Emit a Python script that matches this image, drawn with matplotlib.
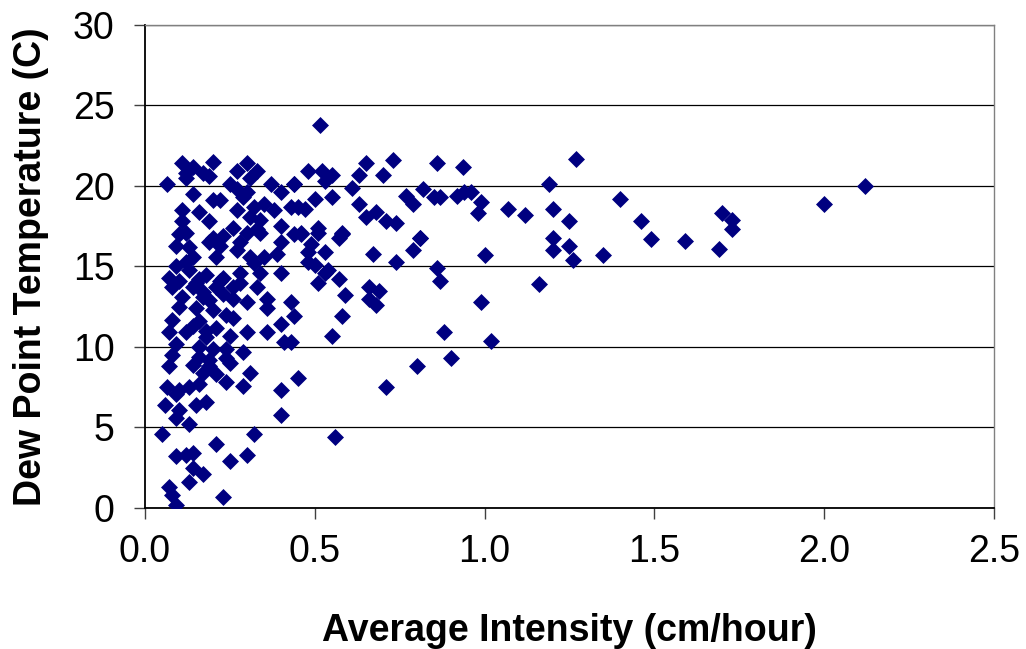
import matplotlib
matplotlib.use("Agg")
import matplotlib.pyplot as plt

plt.rcParams["font.family"] = ["Liberation Sans", "DejaVu Sans"]

# storm-average rainfall intensity (cm/hour) vs dew point (C)
intensity = [
    # sparse, higher-intensity events
    2.12, 2.00, 1.70, 1.73, 1.73, 1.69, 1.59, 1.49, 1.46, 1.40,
    1.35, 1.27, 1.25, 1.25, 1.26, 1.19, 1.20, 1.20, 1.20, 1.16,
    1.12, 1.07, 1.02, 1.00, 0.99, 0.99, 0.98, 0.94, 0.96, 0.935,
    0.90, 0.88, 0.92,
    # mid-range events
    0.46, 0.51, 0.58, 0.57, 0.81, 0.79, 0.49, 0.48, 0.53, 0.67,
    0.48, 0.50, 0.54, 0.53, 0.57, 0.51, 0.74, 0.86, 0.87, 0.66,
    0.69, 0.66, 0.68, 0.59, 0.43, 0.44, 0.58, 0.55, 0.43, 0.80,
    0.45, 0.71, 0.56, 0.515, 0.65, 0.73, 0.86, 0.48, 0.52, 0.55,
    0.53, 0.63, 0.70, 0.44, 0.61, 0.82, 0.85, 0.87, 0.77, 0.79,
    0.50, 0.55, 0.47, 0.43, 0.63, 0.65, 0.68, 0.71, 0.74, 0.51,
    0.58, 0.46, 0.81,
    # low-intensity events
    0.20, 0.11, 0.14, 0.30, 0.33, 0.27, 0.12, 0.17, 0.19, 0.12,
    0.065, 0.25, 0.31, 0.37, 0.44, 0.40, 0.14, 0.27, 0.29, 0.20,
    0.22, 0.11, 0.16, 0.27, 0.32, 0.38, 0.45, 0.19, 0.11, 0.31,
    0.34, 0.40, 0.26, 0.30, 0.33, 0.12, 0.20, 0.10, 0.19, 0.22,
    0.09, 0.13, 0.28, 0.40, 0.44, 0.34, 0.21, 0.14, 0.31, 0.39,
    0.09, 0.13, 0.07, 0.18, 0.23, 0.28, 0.32, 0.34, 0.40, 0.08,
    0.14, 0.21, 0.26, 0.33, 0.36, 0.26, 0.11, 0.17, 0.36, 0.10,
    0.15, 0.20, 0.26, 0.08, 0.16, 0.40, 0.30, 0.25, 0.36, 0.07,
    0.12, 0.18, 0.41, 0.09, 0.16, 0.20, 0.24, 0.29, 0.08, 0.16,
    0.24, 0.07, 0.14, 0.19, 0.25, 0.31, 0.17, 0.21, 0.24, 0.29,
    0.40, 0.065, 0.10, 0.13, 0.16, 0.09, 0.18, 0.15, 0.06, 0.10,
    0.09, 0.13, 0.40, 0.05, 0.32, 0.21, 0.09, 0.12, 0.14, 0.30,
    0.25, 0.14, 0.17, 0.13, 0.07, 0.23, 0.08, 0.09,
    # extra points filling the dense low-intensity cluster
    0.15, 0.17, 0.19, 0.22, 0.24, 0.18, 0.21, 0.23, 0.16, 0.19,
    0.28, 0.30, 0.35, 0.12, 0.14, 0.23, 0.27, 0.10, 0.35, 0.30,
]
dew_point = [
    20.0, 18.9, 18.3, 17.9, 17.3, 16.1, 16.6, 16.7, 17.8, 19.2,
    15.7, 21.7, 17.8, 16.3, 15.4, 20.1, 18.6, 16.8, 16.0, 13.9,
    18.2, 18.6, 10.4, 15.7, 12.8, 19.0, 18.3, 19.6, 19.6, 21.2,
    9.3, 10.9, 19.4,
    17.0, 17.1, 17.0, 16.8, 16.8, 16.0, 16.4, 15.9, 15.9, 15.8,
    15.3, 15.1, 14.8, 14.6, 14.2, 14.0, 15.3, 14.9, 14.1, 13.7,
    13.5, 13.0, 12.6, 13.2, 12.8, 11.9, 11.9, 10.7, 10.3, 8.8,
    8.1, 7.5, 4.4, 23.8, 21.4, 21.6, 21.4, 20.9, 20.9, 20.7,
    20.3, 20.7, 20.7, 20.1, 19.9, 19.8, 19.3, 19.3, 19.4, 18.9,
    19.2, 19.3, 18.6, 18.7, 18.9, 18.1, 18.4, 17.8, 17.7, 17.4,
    17.1, 17.1, 16.8,
    21.5, 21.4, 21.2, 21.4, 20.9, 20.9, 20.8, 20.8, 20.6, 20.5,
    20.1, 20.1, 20.5, 20.1, 20.1, 19.6, 19.5, 19.8, 19.3, 19.1,
    19.1, 18.5, 18.4, 18.5, 18.7, 18.5, 18.7, 17.8, 17.8, 18.1,
    17.9, 17.5, 17.4, 17.1, 17.3, 17.1, 16.8, 17.0, 16.5, 16.3,
    16.3, 16.2, 16.5, 16.5, 17.0, 17.1, 15.6, 15.6, 15.6, 15.8,
    15.0, 14.8, 14.3, 14.5, 14.3, 14.6, 15.2, 14.6, 14.6, 13.7,
    13.7, 13.7, 13.7, 13.7, 13.0, 13.0, 13.1, 13.1, 12.4, 12.5,
    12.4, 12.3, 11.8, 11.7, 11.6, 11.4, 10.9, 10.7, 10.9, 10.9,
    10.9, 10.6, 10.3, 10.2, 10.0, 9.9, 9.9, 9.7, 9.5, 9.4,
    9.3, 8.8, 8.9, 8.8, 9.0, 8.4, 8.4, 8.3, 7.8, 7.6,
    7.3, 7.5, 7.3, 7.5, 7.7, 7.1, 6.6, 6.4, 6.4, 6.1,
    5.6, 5.2, 5.8, 4.6, 4.6, 4.0, 3.2, 3.3, 3.4, 3.3,
    2.9, 2.5, 2.1, 1.6, 1.3, 0.7, 0.8, 0.2,
    14.0, 13.4, 12.9, 14.1, 12.0, 11.0, 11.2, 13.3, 14.2, 9.2,
    14.0, 19.6, 18.9, 15.3, 11.3, 16.9, 16.0, 14.1, 15.6, 12.8,
]

x_ticks = [0.0, 0.5, 1.0, 1.5, 2.0, 2.5]
y_ticks = [0, 5, 10, 15, 20, 25, 30]

fig = plt.figure(figsize=(10.26, 6.49), dpi=100)
ax = fig.add_axes([0.1413, 0.2173, 0.8275, 0.7442])

ax.scatter(intensity, dew_point, marker="D", s=75, color="#000080",
           linewidths=0, zorder=3)

ax.set_xlim(0, 2.5)
ax.set_ylim(0, 30)
ax.set_xticks(x_ticks)
ax.set_xticklabels([f"{t:.1f}" for t in x_ticks])
ax.set_yticks(y_ticks)

ax.yaxis.grid(True, color="black", linewidth=0.9)
ax.set_axisbelow(True)

for side in ("left", "bottom"):
    ax.spines[side].set_color("black")
    ax.spines[side].set_linewidth(1.3)
for side in ("top", "right"):
    ax.spines[side].set_color("#808080")
    ax.spines[side].set_linewidth(1.0)

ax.tick_params(axis="both", direction="out", length=8, width=1.0,
               color="#404040", labelsize=27)
ax.tick_params(axis="x", pad=11)
ax.tick_params(axis="y", pad=14)

ax.set_xlabel("Average Intensity (cm/hour)", fontsize=27,
              fontweight="bold", labelpad=31)
ax.set_ylabel("Dew Point Temperature (C)", fontsize=27,
              fontweight="bold", labelpad=17)

fig.savefig("out.png", dpi=100)
